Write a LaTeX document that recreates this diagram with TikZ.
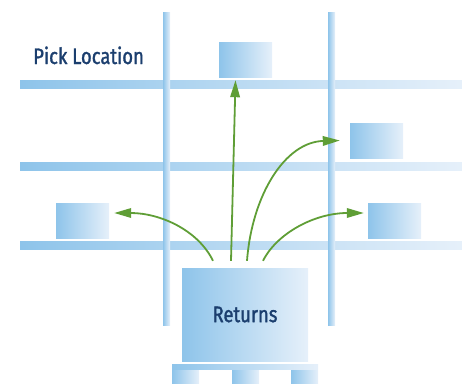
\documentclass[tikz,border=0pt]{standalone}
\usepackage{fontspec}
\setmainfont{Fira Sans}[FakeStretch=0.82,FakeBold=1.3]
\usetikzlibrary{arrows.meta}
\definecolor{blueA}{RGB}{142,196,234}
\definecolor{blueB}{RGB}{230,240,250}
\definecolor{navy}{RGB}{27,62,110}
\definecolor{arrowgreen}{RGB}{95,158,54}
\tikzset{
  shelf/.style={left color=blueA, right color=blueB},
  box/.style={left color=blueA, right color=blueB, draw=none, inner sep=0pt,
    minimum width=53pt, minimum height=35pt},
  label/.style={text=navy, font=\fontsize{22.5}{24}\selectfont, inner sep=0pt},
  move/.style={draw=arrowgreen, line width=1.8pt,
    -{Triangle[length=17pt,width=9.5pt]}},
}
\begin{document}
\begin{tikzpicture}[x=1pt,y=-1pt]
\useasboundingbox (0,0) rectangle (462,383);
% shelves
\shade[shelf] (20,80) rectangle (462,88);
\shade[shelf] (20,162) rectangle (462,170);
\shade[shelf] (20,241) rectangle (462,249);
% uprights
\shade[shelf] (163,12) rectangle (170,325);
\shade[shelf] (328,12) rectangle (335,325);
% stored boxes
\node[box] (tbox) at (245.5,59.5) {};
\node[box] (mbox) at (376.5,140.5) {};
\node[box] (lbox) at (82.5,220.5) {};
\node[box] (rbox) at (394.5,220.5) {};
% returns pallet
\node[box, minimum width=126pt, minimum height=93pt, label] (returns) at (245,314.5) {Returns};
\node[box, minimum width=146pt, minimum height=5pt] (board) at (245,366.5) {};
\node[box, minimum width=27pt, minimum height=13pt] (footL) at (185.5,376.5) {};
\node[box, minimum width=27pt, minimum height=13pt] (footM) at (245.5,376.5) {};
\node[box, minimum width=27pt, minimum height=13pt] (footR) at (304.5,376.5) {};
% title
\node[label, anchor=base west] (title) at (33,64) {Pick Location};
% arrows
\draw[move] ([xshift=-32pt,yshift=7pt]returns.north) .. controls (198,230) and (160,213) .. ([xshift=5pt,yshift=7.5pt]lbox.east);
\draw[move] ([xshift=-14pt,yshift=7pt]returns.north) -- ([xshift=-10pt,yshift=-3pt]tbox.south);
\draw[move] ([xshift=2pt,yshift=7pt]returns.north) .. controls (252,195) and (285,142) .. ([xshift=-10pt]mbox.west);
\draw[move] ([xshift=18pt,yshift=7pt]returns.north) .. controls (277,233) and (315,213) .. ([xshift=-4pt,yshift=7.5pt]rbox.west);
\end{tikzpicture}
\end{document}
